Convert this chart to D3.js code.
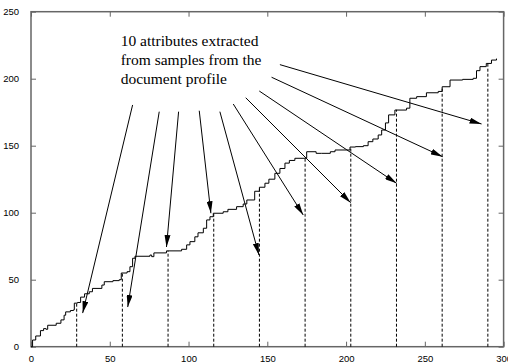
<!DOCTYPE html>
<html>
<head>
<meta charset="utf-8">
<script src="https://cdn.jsdelivr.net/npm/d3@7"></script>
<style>
  body { margin: 0; background: #fff; }
  svg { display: block; }
</style>
</head>
<body>
<svg id="chart" width="508" height="364"></svg>
<script>
// cumulative curve
const curveX = [0, 1, 3, 6, 8, 9.5, 10.6, 16, 19, 21, 22, 25, 27, 27.5, 29.5, 31.5, 34, 37, 39, 45, 46.5, 52, 56, 57.3, 61, 62.8, 64.5, 66, 75.5, 76.6, 78, 86, 95.6, 98.8, 100.9, 104, 106, 109.4, 111.5, 113.6, 115.7, 122, 125, 130.5, 134.7, 137, 142, 145, 148.5, 151, 154.8, 158, 161.2, 164, 167.5, 173.9, 175, 181, 184.5, 190, 193, 200.4, 202.5, 206, 211, 214, 217, 220.4, 222.6, 225, 227, 231, 238.4, 240.5, 244.8, 251, 258.5, 261, 266, 274, 280.7, 282.8, 285, 289, 292.3, 295.5];
const curveY = [0, 5, 8, 12, 13.5, 13, 16, 17.5, 20, 23.5, 26, 27, 27.5, 32.5, 33, 37, 39.5, 41, 43.5, 46, 48.5, 49.3, 50, 55, 56, 59.7, 66, 67.5, 68.4, 67.2, 70, 71.5, 72.7, 76, 78.4, 82, 85, 88.4, 94.6, 97, 99.6, 100.7, 102.5, 104.5, 106.5, 109.5, 116, 119, 122, 125, 129.4, 133, 137, 139, 140.6, 140.6, 145.5, 144.3, 144.3, 145.5, 146.8, 146.8, 149, 149.3, 150, 153, 155, 158, 161.7, 167, 173, 176.6, 178, 185.4, 186.6, 189.5, 190.5, 194, 199, 199.5, 200.3, 206, 209, 211.4, 213.9, 215];

// sample positions of the 10 attributes
const sampleX = [29, 58, 87, 116, 145, 174, 203, 232, 261, 290];

// arrows: start and tip, in data units
const arrowFromX = [64.5, 81.4, 93.7, 106.8, 119.9, 128.4, 136.3, 144.9, 152.7, 158];
const arrowFromY = [180.4, 175.4, 175.4, 176.1, 175.4, 181.1, 185.8, 190.8, 201.1, 210.5];
const arrowToX = [32.8, 61.4, 86, 114.2, 144.7, 172.8, 202.9, 232.1, 261.3, 286];
const arrowToY = [25.1, 29.6, 74.4, 99.6, 68.4, 98.3, 107.5, 121.9, 141.8, 166.2];

const noteLines = ["10 attributes extracted", "from samples from the", "document profile"];
const xTicks = [0, 50, 100, 150, 200, 250, 300];
const yTicks = [0, 50, 100, 150, 200, 250];

const svg = d3.select("#chart");
const width = +svg.attr("width");
const height = +svg.attr("height");
const margin = { top: 11.7, right: 4.4, bottom: 17.3, left: 31 };

const x = d3.scaleLinear().domain([0, 300]).range([margin.left, width - margin.right]);
const y = d3.scaleLinear().domain([0, 250]).range([height - margin.bottom, margin.top]);

const axisColor = "#666";

function styleAxis(g) {
  g.select(".domain").remove();
  g.selectAll(".tick line").attr("stroke", axisColor).attr("stroke-width", 1);
  g.selectAll(".tick text")
    .attr("fill", "#000")
    .style("font-family", "'Liberation Sans', Arial, sans-serif")
    .style("font-size", "9.5px");
}

// axes, ticks pointing inward
svg.append("g")
  .attr("transform", `translate(0,${y(0)})`)
  .call(d3.axisBottom(x).tickValues(xTicks).tickSize(-5).tickPadding(9))
  .call(styleAxis);

svg.append("g")
  .attr("transform", `translate(0,${y(250)})`)
  .call(d3.axisTop(x).tickValues(xTicks).tickSize(-5).tickFormat(""))
  .call(styleAxis);

svg.append("g")
  .attr("transform", `translate(${x(0)},0)`)
  .call(d3.axisLeft(y).tickValues(yTicks).tickSize(-5).tickPadding(12))
  .call(styleAxis);

svg.append("g")
  .attr("transform", `translate(${x(300)},0)`)
  .call(d3.axisRight(y).tickValues(yTicks).tickSize(-5).tickFormat(""))
  .call(styleAxis);

svg.append("rect")
  .attr("x", x(0))
  .attr("y", y(250))
  .attr("width", x(300) - x(0))
  .attr("height", y(0) - y(250))
  .attr("fill", "none")
  .attr("stroke", axisColor)
  .attr("stroke-width", 1.5);

// dashed drop lines from the curve down to the axis
const curveAt = d3.scaleLinear().domain(curveX).range(curveY);
svg.append("g")
  .selectAll("line")
  .data(sampleX)
  .join("line")
  .attr("x1", d => x(d))
  .attr("x2", d => x(d))
  .attr("y1", y(0))
  .attr("y2", d => y(curveAt(d)))
  .attr("stroke", "#000")
  .attr("stroke-width", 1)
  .attr("stroke-dasharray", "3,2");

// the curve
const pts = curveX.map((d, i) => [d, curveY[i]]);
svg.append("path")
  .datum(pts)
  .attr("fill", "none")
  .attr("stroke", "#000")
  .attr("stroke-width", 1)
  .attr("d", d3.line().x(d => x(d[0])).y(d => y(d[1])).curve(d3.curveStepAfter));

// arrows
svg.append("defs").append("marker")
  .attr("id", "head")
  .attr("viewBox", "0 0 12 6")
  .attr("refX", 12)
  .attr("refY", 3)
  .attr("markerWidth", 12)
  .attr("markerHeight", 6)
  .attr("markerUnits", "userSpaceOnUse")
  .attr("orient", "auto")
  .append("path")
  .attr("d", "M0,0L12,3L0,6Z")
  .attr("fill", "#000");

svg.append("g")
  .selectAll("line")
  .data(arrowFromX.map((d, i) => i))
  .join("line")
  .attr("x1", i => x(arrowFromX[i]))
  .attr("y1", i => y(arrowFromY[i]))
  .attr("x2", i => x(arrowToX[i]))
  .attr("y2", i => y(arrowToY[i]))
  .attr("stroke", "#000")
  .attr("stroke-width", 1)
  .attr("marker-end", "url(#head)");

// note text
svg.append("text")
  .attr("x", 120.7)
  .attr("y", 45.5)
  .style("font-family", "'Liberation Serif', 'Times New Roman', serif")
  .style("font-size", "15.5px")
  .selectAll("tspan")
  .data(noteLines)
  .join("tspan")
  .attr("x", 120.7)
  .attr("dy", (d, i) => i === 0 ? 0 : 19)
  .text(d => d);
</script>
</body>
</html>
